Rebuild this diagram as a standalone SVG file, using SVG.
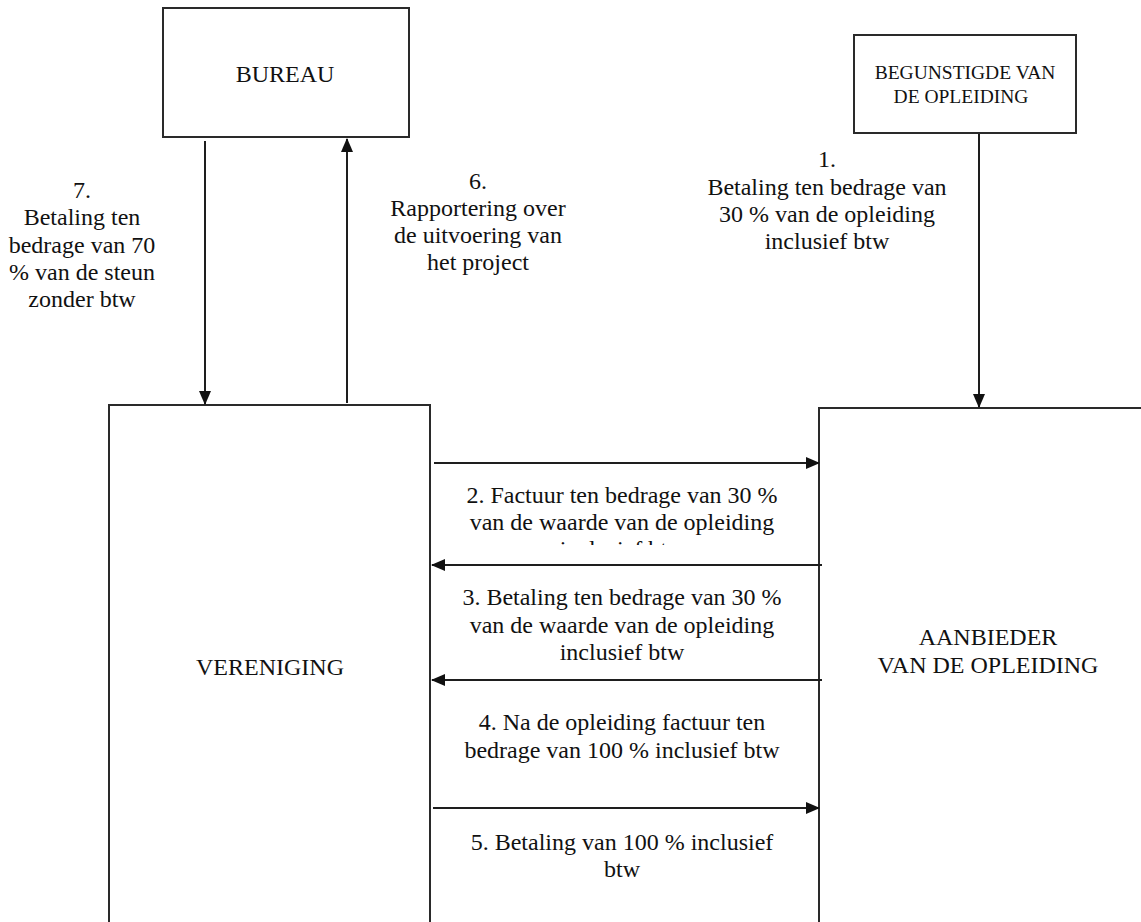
<svg xmlns="http://www.w3.org/2000/svg" width="1141" height="922" viewBox="0 0 1141 922">
<style>
  .box { fill: #ffffff; stroke: #2a2a2a; stroke-width: 2; }
  .t { font-family: "Liberation Serif", "Times New Roman", serif; font-size: 24px; fill: #111; text-anchor: middle; }
  .s { font-size: 19.5px; }
  .conn { stroke: #1e1e1e; stroke-width: 2; fill: none; marker-end: url(#ah); }
</style>
<defs>
  <marker id="ah" markerUnits="userSpaceOnUse" markerWidth="14" markerHeight="12" viewBox="0 0 14 12" refX="13" refY="6" orient="auto">
    <path d="M0,0 L14,6 L0,12 Z" fill="#111"/>
  </marker>
  <clipPath id="cut2"><rect x="420" y="530" width="420" height="15"/></clipPath>
</defs>
<rect width="1141" height="922" fill="#ffffff"/>

<g id="bureau">
  <rect class="box" x="163" y="8" width="246" height="129"/>
  <text class="t" x="285" y="82">BUREAU</text>
</g>

<g id="begunstigde">
  <rect class="box" x="854" y="35" width="222" height="98"/>
  <text class="t s" x="965" y="79">BEGUNSTIGDE VAN</text>
  <text class="t s" x="961" y="103">DE OPLEIDING</text>
</g>

<g id="vereniging">
  <rect class="box" x="109" y="405" width="321" height="530"/>
  <text class="t" x="270" y="675">VERENIGING</text>
</g>

<g id="aanbieder">
  <rect class="box" x="819" y="408" width="340" height="530"/>
  <text class="t" x="988" y="645">AANBIEDER</text>
  <text class="t" x="988" y="673">VAN DE OPLEIDING</text>
</g>

<g id="connectors">
  <line class="conn" x1="979" y1="134" x2="979" y2="407"/>
  <line class="conn" x1="205" y1="141" x2="205" y2="404"/>
  <line class="conn" x1="347" y1="403" x2="347" y2="139"/>
  <line class="conn" x1="434" y1="463" x2="819" y2="463"/>
  <line class="conn" x1="822" y1="565" x2="432" y2="565"/>
  <line class="conn" x1="822" y1="680" x2="432" y2="680"/>
  <line class="conn" x1="433" y1="808" x2="819" y2="808"/>
</g>

<g id="labels">
  <text class="t" x="827" y="167">1.</text>
  <text class="t" x="827" y="195">Betaling ten bedrage van</text>
  <text class="t" x="827" y="222">30 % van de opleiding</text>
  <text class="t" x="827" y="249">inclusief btw</text>

  <text class="t" x="82" y="198">7.</text>
  <text class="t" x="82" y="225">Betaling ten</text>
  <text class="t" x="82" y="253">bedrage van 70</text>
  <text class="t" x="82" y="280">% van de steun</text>
  <text class="t" x="82" y="307">zonder btw</text>

  <text class="t" x="478" y="189">6.</text>
  <text class="t" x="478" y="216">Rapportering over</text>
  <text class="t" x="478" y="243">de uitvoering van</text>
  <text class="t" x="478" y="270">het project</text>

  <text class="t" x="622" y="503">2. Factuur ten bedrage van 30 %</text>
  <text class="t" x="622" y="530">van de waarde van de opleiding</text>
  <text class="t" x="622" y="557" clip-path="url(#cut2)">inclusief btw</text>

  <text class="t" x="622" y="605">3. Betaling ten bedrage van 30 %</text>
  <text class="t" x="622" y="633">van de waarde  van de opleiding</text>
  <text class="t" x="622" y="660">inclusief btw</text>

  <text class="t" x="622" y="730">4. Na de opleiding factuur ten</text>
  <text class="t" x="622" y="758">bedrage van 100 % inclusief btw</text>

  <text class="t" x="622" y="850">5. Betaling van 100 % inclusief</text>
  <text class="t" x="622" y="877">btw</text>
</g>
</svg>
